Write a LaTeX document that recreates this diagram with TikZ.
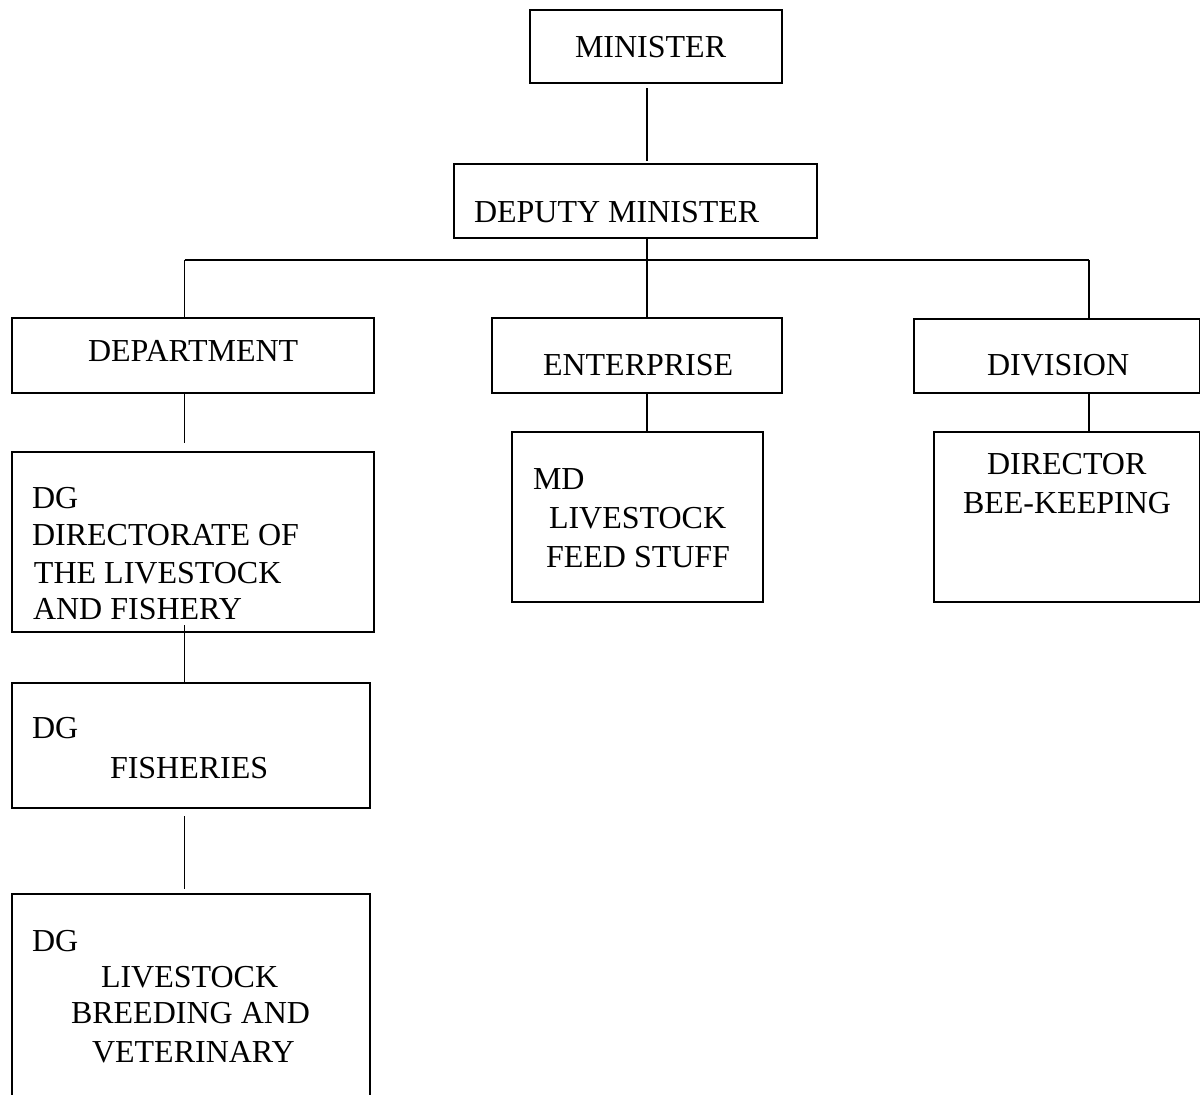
\documentclass[tikz,border=0pt]{standalone}
\usepackage{fontspec}
\setmainfont{Liberation Serif}
\begin{document}
\begin{tikzpicture}[x=1pt,y=-1pt,
  box/.style={draw, line width=1.4pt, inner sep=0pt, outer sep=0pt, anchor=north west},
  lbl/.style={inner sep=0pt, outer sep=0pt, anchor=base west, font=\fontsize{32}{38}\selectfont},
  conn/.style={line width=1.4pt}]
\useasboundingbox (0,0) rectangle (1200,1095);
\clip (0,0) rectangle (1200,1095);
% columns and bar
\coordinate (c1) at (184.5,0);
\coordinate (c2) at (647,0);
\coordinate (c3) at (1089,0);
\coordinate (bar) at (0,260);
% boxes
\node[box, minimum width=252pt, minimum height=73pt] (min) at (530,10) {};
\node[box, minimum width=363pt, minimum height=74pt] (dep) at (454,164) {};
\node[box, minimum width=362pt, minimum height=75pt] (dept) at (12,318) {};
\node[box, minimum width=290pt, minimum height=75pt] (ent) at (492,318) {};
\node[box, minimum width=285.5pt, minimum height=74pt] (div) at (914,319) {};
\node[box, minimum width=362pt, minimum height=180pt] (dgd) at (12,452) {};
\node[box, minimum width=251pt, minimum height=170pt] (md) at (512,432) {};
\node[box, minimum width=265.5pt, minimum height=170pt] (dir) at (934,432) {};
\node[box, minimum width=358pt, minimum height=125pt] (fish) at (12,683) {};
\node[box, minimum width=358pt, minimum height=220pt] (vet) at (12,894) {};
% texts
\node[lbl] (tmin) at (575,57) {MINISTER};
\node[lbl] (tdep) at (474,222) {DEPUTY MINISTER};
\node[lbl] (tdept) at (88,361) {DEPARTMENT};
\node[lbl] (tent) at (543,375) {ENTERPRISE};
\node[lbl] (tdiv) at (987,375) {DIVISION};
\node[lbl] (tdgd1) at (32,508) {DG};
\node[lbl] (tdgd2) at (32,545) {DIRECTORATE OF};
\node[lbl] (tdgd3) at (34,583) {THE LIVESTOCK};
\node[lbl] (tdgd4) at (33,619) {AND FISHERY};
\node[lbl] (tmd1) at (533,489) {MD};
\node[lbl] (tmd2) at (549,528) {LIVESTOCK};
\node[lbl] (tmd3) at (546,567) {FEED STUFF};
\node[lbl] (tdir1) at (987,474) {DIRECTOR};
\node[lbl] (tdir2) at (963,513) {BEE-KEEPING};
\node[lbl] (tfi1) at (32,738) {DG};
\node[lbl] (tfi2) at (110,778) {FISHERIES};
\node[lbl] (tve1) at (32,951) {DG};
\node[lbl] (tve2) at (101,987) {LIVESTOCK};
\node[lbl] (tve3) at (71,1023) {BREEDING AND};
\node[lbl] (tve4) at (92,1062) {VETERINARY};
% connectors
\draw[conn] ([yshift=-5pt]min.south -| c2) -- ([yshift=3pt]dep.north -| c2);
\draw[conn] (dep.south -| c2) -- (c2 |- bar);
\draw[conn] (c1 |- bar) -- (c3 |- bar);
\draw[conn] (c1 |- bar) -- (dept.north -| c1);
\draw[conn] (c2 |- bar) -- (ent.north -| c2);
\draw[conn] (c3 |- bar) -- (div.north -| c3);
\draw[conn] (dept.south -| c1) -- ([yshift=9pt]dgd.north -| c1);
\draw[conn] (ent.south -| c2) -- (md.north -| c2);
\draw[conn] (div.south -| c3) -- (dir.north -| c3);
\draw[conn] ([yshift=7pt]dgd.south -| c1) -- (fish.north -| c1);
\draw[conn] ([yshift=-8pt]fish.south -| c1) -- ([yshift=5pt]vet.north -| c1);
\end{tikzpicture}
\end{document}
